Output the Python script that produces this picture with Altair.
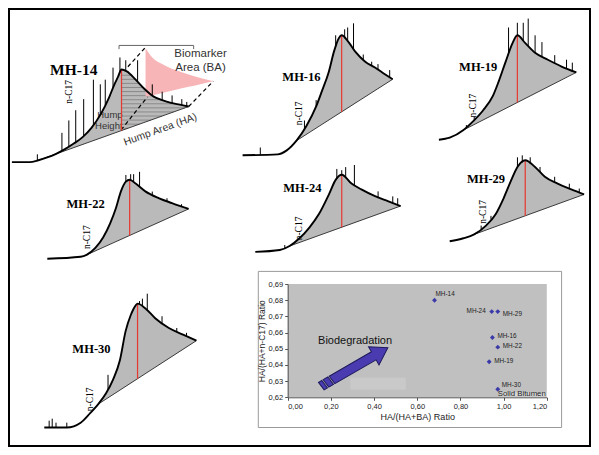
import numpy as np
import pandas as pd
import altair as alt

# ---------------- chromatogram envelopes ----------------
# retention (0 = start of trace, 100 = end of hump), response normalised to hump top = 100
MH14_T = [0, 10, 15, 20, 25, 30, 35, 40, 45, 50, 55, 58, 60, 62, 65, 70, 75, 80, 85, 90, 95, 100]
MH14_R = [0, 0, 2, 5, 9, 14, 20, 27, 37, 51, 70, 84, 92, 100, 98, 89, 79, 71, 67, 64, 62, 60]
MH14_SPK_T = [14.4, 28.3, 32.2, 36.1, 40.6, 46.1, 50, 52.8, 57.2, 61.1, 64.4, 71.1, 79.4, 85, 90.6, 96.1, 98.9]
MH14_SPK_R = [8.4, 31.6, 45, 56, 68, 89, 84, 89, 102, 113, 110, 110, 84, 76, 72, 68, 65]

MH16_T = [0, 23.5, 29.4, 35.9, 42.5, 49, 52.9, 57.5, 60.8, 64.1, 66, 70.6, 75.2, 81.7, 88.2, 94.8, 100]
MH16_R = [0, 0.8, 4.1, 12.2, 24.4, 40.7, 53.7, 69.9, 86.2, 97.6, 100, 94.3, 86.2, 78, 73.2, 67.5, 63.4]
MH16_SPK_T = [11.8, 41.2, 49, 62, 68, 70, 73.9, 80.4, 86, 90.2, 98]
MH16_SPK_R = [6.5, 29, 46, 100, 105, 106.5, 110, 84, 78, 76, 71]

MH19_T = [0, 7.9, 17.9, 25, 32.1, 39.3, 43.6, 48.6, 53.6, 57.1, 62.9, 70, 79.3, 89.3, 100]
MH19_R = [0, 1.9, 9.3, 17.8, 28, 42, 56.1, 74.8, 92.5, 100, 92.5, 83.2, 76.6, 70.1, 64.5]
MH19_SPK_T = [20, 25.7, 50.7, 57.1, 61.4, 65, 70, 75, 84.3, 92.9, 97.1]
MH19_SPK_R = [14, 22, 107.5, 112, 112, 116, 100, 93.5, 81, 76.6, 73.8]

MH22_T = [0, 23.6, 27.8, 34, 39.6, 44.4, 48.6, 52.1, 55.6, 58.3, 62.5, 69.4, 79.2, 88.2, 100]
MH22_R = [0, 2.5, 4.9, 13.6, 27.2, 44.4, 64.2, 85.2, 97.5, 100, 95.1, 85.2, 76.5, 70.4, 63]
MH22_SPK_T = [55.6, 59, 61.1, 65.3, 74.3, 84.7, 95]
MH22_SPK_R = [106, 107, 107, 110, 85, 76.5, 69]

MH24_T = [0, 16.9, 23.6, 30.4, 37.2, 43.9, 50.7, 55.4, 59.5, 66.2, 73, 82.4, 91.2, 100]
MH24_R = [0, 2.5, 7.6, 17.7, 31.6, 49.4, 74.7, 93.7, 100, 88.6, 81, 72.2, 65.8, 59.5]
MH24_SPK_T = [20.3, 56.1, 59.5, 62.2, 68.2, 84.5, 94.6, 98]
MH24_SPK_R = [8.9, 107.6, 106, 110, 112.7, 78.5, 72, 69.6]

MH29_T = [0, 10.2, 18.2, 27, 34.3, 40.1, 45.3, 50.4, 56.2, 63.5, 70.8, 80.3, 90.5, 100]
MH29_R = [0, 3.6, 8.4, 19.3, 33.7, 53, 73.5, 91.6, 100, 91.6, 79.5, 71.1, 63.9, 57.8]
MH29_SPK_T = [23.4, 30.7, 50.4, 54, 59.9, 67.2, 78.1, 89, 96.4]
MH29_SPK_R = [19.3, 31.3, 103.6, 106, 103.6, 91.6, 79.5, 71, 65]

MH30_T = [0, 14.8, 23.9, 30.3, 35.5, 40.6, 45.2, 49.7, 53.5, 56.8, 60, 61.3, 66.5, 72.9, 81.9, 91.6, 100]
MH30_R = [0, 0, 3.9, 11.8, 18.9, 27.6, 38.6, 54.3, 78, 90.6, 98.4, 100, 96.1, 88.2, 80.3, 74.8, 70.1]
MH30_SPK_T = [3.2, 5.2, 7.7, 14.8, 41.9, 62.6, 64.5, 67.7, 77.4, 87.1, 93.5]
MH30_SPK_R = [5.5, 7.1, 3.9, 3.9, 42.5, 102, 104, 108, 89.8, 80.3, 76.4]

# retention where the hump-area baseline (n-C17) starts
HA_START = {"MH-14": 15, "MH-16": 35.9, "MH-19": 17.9, "MH-22": 27.8,
            "MH-24": 23.6, "MH-29": 18.2, "MH-30": 35.5}

# MH-14 biomarker-area illustration
PINK_T = [75.6, 79.4, 85, 92.2, 100, 107.2, 113.9]
PINK_TOP = [123, 113, 106, 99.6, 94.7, 90.5, 87.4]
PINK_BOTTOM = [70.5, 87.4]

# ---------------- scatter data ----------------
SAMPLES = ["MH-14", "MH-24", "MH-29", "MH-16", "MH-22", "MH-19", "MH-30"]
HA_HABA = [0.680, 0.945, 0.973, 0.948, 0.973, 0.933, 0.973]
HA_HANC17 = [0.680, 0.673, 0.673, 0.657, 0.651, 0.642, 0.625]
X_TICKS = [0.0, 0.2, 0.4, 0.6, 0.8, 1.0, 1.2]
Y_TICKS = [0.62, 0.63, 0.64, 0.65, 0.66, 0.67, 0.68, 0.69]

# ---------------- layout / style ----------------
W, H = 583, 439
SERIF = "Liberation Serif"
SANS = "Liberation Sans"
GRAY = "#bababa"
one = pd.DataFrame({"a": [0]})

# pixel ranges of each chromatogram's retention (0..100) and response (0..100) axes
PANEL_RANGE = {
    "MH-14": ([3.9, 180.7], [154.1, 61.5]),
    "MH-16": ([234.6, 384.7], [147.3, 27.3]),
    "MH-19": ([430.9, 568.3], [131.7, 27.3]),
    "MH-22": ([39.3, 180.6], [250.7, 171.7]),
    "MH-24": ([247.3, 392.6], [243.9, 166.8]),
    "MH-29": ([441.7, 576.1], [233.2, 152.2]),
    "MH-30": ([36.3, 188.4], [419.5, 295.6]),
}
SCATTER_RANGE = ([279.7, 538.8], [389.3, 276.1])


def chromatogram(name, t, r, spk_t, spk_r, lab, nc, lab_size=12.5, extra=None):
    xr, yr = PANEL_RANGE[name]
    xs = alt.Scale(domain=[0, 100], range=xr, nice=False, zero=False)
    ys = alt.Scale(domain=[0, 100], range=yr, nice=False, zero=False)

    def X(f):
        return alt.X(f, type="quantitative", scale=xs, axis=None)

    def Y(f):
        return alt.Y(f, type="quantitative", scale=ys, axis=None)

    env = pd.DataFrame({"t": t, "r": r})
    t0 = HA_START[name]
    r0 = r[t.index(t0)]
    t1, r1 = t[-1], r[-1]

    def base(x):
        return r0 + (np.asarray(x, dtype=float) - t0) * (r1 - r0) / (t1 - t0)

    area = env[env.t >= t0].copy()
    area["b"] = base(area.t)
    ipk = int(np.argmax(r))
    tp, rp = t[ipk], r[ipk]
    peak = pd.DataFrame({"t": [tp], "r": [rp], "b": [float(base(tp))]})
    spk = pd.DataFrame({"t": spk_t, "top": spk_r, "bot": np.interp(spk_t, t, r)})
    baseline = pd.DataFrame({"t": [t0, t1], "r": [r0, r1]})

    layers = [alt.Chart(area).mark_area(color=GRAY, interpolate="monotone").encode(X("t"), Y("r"), y2="b")]
    if extra is not None:
        layers += extra(X, Y, t, r, t0, r0, t1, r1, tp, rp, base)
    layers += [
        alt.Chart(baseline).mark_line(color="#3a3a3a", strokeWidth=1).encode(X("t"), Y("r")),
        alt.Chart(peak).mark_rule(color="#e8372f", strokeWidth=1.2).encode(X("t"), Y("r"), y2="b"),
        alt.Chart(spk).mark_rule(color="black", strokeWidth=1).encode(X("t"), Y("bot"), y2="top"),
        alt.Chart(env).mark_line(color="black", strokeWidth=1.9, interpolate="monotone").encode(X("t"), Y("r")),
        alt.Chart(pd.DataFrame({"t": [lab[0]], "r": [lab[1]], "s": [name]})).mark_text(
            font=SERIF, fontWeight="bold", fontSize=lab_size, color="black"
        ).encode(X("t"), Y("r"), text="s"),
        alt.Chart(pd.DataFrame({"t": [nc[0]], "r": [nc[1]], "s": ["n-C17"]})).mark_text(
            font=SERIF, fontSize=9.5, angle=270, color="black"
        ).encode(X("t"), Y("r"), text="s"),
    ]
    return alt.layer(*layers)


def mh14_extra(X, Y, t, r, t0, r0, t1, r1, tp, rp, base):
    out = []
    # hatching of the hump area right of the hump height
    decay_t = np.array(t[t.index(tp):], dtype=float)
    decay_r = np.array(r[t.index(tp):], dtype=float)
    levels = np.arange(float(base(tp)) + 2.5, rp - 2, 4.4)
    xr = []
    for L in levels:
        right_env = np.interp(L, decay_r[::-1], decay_t[::-1])
        right_base = t0 + (L - r0) * (t1 - t0) / (r1 - r0) if L <= r1 else 1e9
        xr.append(float(min(right_env, right_base)))
    hatch = pd.DataFrame({"y": levels, "x0": tp, "x1": xr})
    out.append(alt.Chart(hatch).mark_rule(color="#7d7d7d", strokeWidth=0.8).encode(X("x0"), Y("y"), x2="x1"))
    # pulled-out biomarker area
    pk = pd.DataFrame({"t": PINK_T, "top": PINK_TOP,
                       "bot": np.interp(PINK_T, [PINK_T[0], PINK_T[-1]], PINK_BOTTOM)})
    out.append(alt.Chart(pk).mark_area(color="#f7b5b7", interpolate="monotone").encode(
        X("t"), Y("top"), y2="bot"))
    dash = pd.DataFrame({"x0": [65.6, 61.7, 100], "y0": [103, 34.7, 60],
                         "x1": [75.6, 76.7, 113.9], "y1": [124, 70.5, 87.4]})
    out.append(alt.Chart(dash).mark_rule(color="black", strokeWidth=1.2, strokeDash=[4, 3]).encode(
        X("x0"), Y("y0"), x2="x1", y2="y1"))
    br = pd.DataFrame({"x0": [60.6, 60.6, 102.8], "x1": [102.8, 60.6, 102.8],
                       "y0": [126, 126, 126], "y1": [126, 122, 122]})
    out.append(alt.Chart(br).mark_rule(color="#666666", strokeWidth=1).encode(
        X("x0"), Y("y0"), x2="x1", y2="y1"))
    txt = pd.DataFrame({"t": [106.7, 106.7], "r": [117, 102], "s": ["Biomarker", "Area (BA)"]})
    out.append(alt.Chart(txt).mark_text(font=SANS, fontSize=11.5, color="#333333").encode(
        X("t"), Y("r"), text="s"))
    hh = pd.DataFrame({"t": [62.6, 62.6], "r": [50.5, 39], "s": ["Hump", "Height"]})
    out.append(alt.Chart(hh).mark_text(font=SANS, fontSize=9.5, color="#333333", align="right").encode(
        X("t"), Y("r"), text="s"))
    ha = pd.DataFrame({"t": [84], "r": [35], "s": ["Hump Area (HA)"]})
    out.append(alt.Chart(ha).mark_text(font=SANS, fontSize=10.5, color="#333333", angle=340).encode(
        X("t"), Y("r"), text="s"))
    return out


p14 = chromatogram("MH-14", MH14_T, MH14_R, MH14_SPK_T, MH14_SPK_R, (35, 100), (32.2, 75.8),
                   lab_size=15.5, extra=mh14_extra)
p22 = chromatogram("MH-22", MH22_T, MH22_R, MH22_SPK_T, MH22_SPK_R, (27.1, 69), (27.8, 27.2))
p30 = chromatogram("MH-30", MH30_T, MH30_R, MH30_SPK_T, MH30_SPK_R, (31, 63), (30.3, 22.8))
p16 = chromatogram("MH-16", MH16_T, MH16_R, MH16_SPK_T, MH16_SPK_R, (39.2, 65), (37.9, 35))
p24 = chromatogram("MH-24", MH24_T, MH24_R, MH24_SPK_T, MH24_SPK_R, (32.4, 82.3), (30.4, 30.4))
p19 = chromatogram("MH-19", MH19_T, MH19_R, MH19_SPK_T, MH19_SPK_R, (28.6, 69.2), (25, 32.7))
p29 = chromatogram("MH-29", MH29_T, MH29_R, MH29_SPK_T, MH29_SPK_R, (27, 77.1), (24.8, 36.1))

# ---------------- scatter ----------------
sxr, syr = SCATTER_RANGE
xsc = alt.Scale(domain=[0, 1.2], range=sxr, nice=False, zero=False)
ysc = alt.Scale(domain=[0.62, 0.69], range=syr, nice=False, zero=False)
lab_expr = "replace(format(datum.value, '.2f'), '.', ',')"
XAX = alt.Axis(values=X_TICKS, labelExpr=lab_expr, grid=False, title="HA/(HA+BA) Ratio", orient="bottom",
               offset=-(H - syr[0]), labelFont=SANS, titleFont=SANS, labelFontSize=7.5, titleFontSize=9,
               titleFontWeight="normal", labelColor="#222222", titleColor="#222222", domainColor="#555555",
               tickColor="#555555", tickSize=3, labelPadding=2, titlePadding=3, zindex=1)
YAX = alt.Axis(values=Y_TICKS, labelExpr=lab_expr, grid=False, title="HA/(HA+n-C17) Ratio", orient="left",
               offset=-sxr[0], labelFont=SANS, titleFont=SANS, labelFontSize=7.5, titleFontSize=8.5,
               titleFontWeight="normal", labelColor="#222222", titleColor="#222222", domainColor="#555555",
               tickColor="#555555", tickSize=3, labelPadding=2, titlePadding=2, zindex=1)


def SX(f):
    return alt.X(f, type="quantitative", scale=xsc, axis=XAX)


def SY(f):
    return alt.Y(f, type="quantitative", scale=ysc, axis=YAX)


pts = pd.DataFrame({"sample": SAMPLES, "x": HA_HABA, "y": HA_HANC17})

box = alt.Chart(one).mark_rect(fill="white", stroke="#9a9a9a", strokeWidth=1).encode(
    x=alt.value(250.3), x2=alt.value(553.6), y=alt.value(263.4), y2=alt.value(419.5))
bg = alt.Chart(pd.DataFrame({"x0": [0.0], "x1": [1.2], "y0": [0.62], "y1": [0.69]})).mark_rect(
    color="#c0c0c0").encode(SX("x0"), SY("y0"), x2="x1", y2="y1")
wm = alt.Chart(pd.DataFrame({"x0": [0.29], "x1": [0.547], "y0": [0.6247], "y1": [0.6321]})).mark_rect(
    color="#c9c9c9").encode(SX("x0"), SY("y0"), x2="x1", y2="y1")
sb = alt.Chart(pd.DataFrame({"x0": [0.985], "x1": [1.2], "y0": [0.6205], "y1": [0.6232]})).mark_rect(
    color="#d6d6d6").encode(SX("x0"), SY("y0"), x2="x1", y2="y1")

# arrow glyph (tail pieces, shaft, head) drawn at the arrow's midpoint
ARROW_PATH = ("M-1,-0.12 L-0.9,-0.12 L-0.87,0.12 L-0.97,0.12 Z "
              "M-0.86,-0.12 L-0.72,-0.12 L-0.69,0.12 L-0.83,0.12 Z "
              "M-0.68,-0.12 L0.58,-0.12 L0.58,-0.27 L1,0 L0.58,0.27 L0.58,0.12 L-0.65,0.12 Z")
arr = alt.Chart(pd.DataFrame({"x": [0.3085], "y": [0.6387]})).mark_point(
    shape=ARROW_PATH, size=6000, angle=330, filled=True, fill="#4a3cb0", stroke="#1d1a5c",
    strokeWidth=1, opacity=1).encode(SX("x"), SY("y"))
bio = alt.Chart(pd.DataFrame({"x": [0.312], "y": [0.6548], "s": ["Biodegradation"]})).mark_text(
    font=SANS, fontSize=11, color="#111111").encode(SX("x"), SY("y"), text="s")

dots = alt.Chart(pts).mark_point(shape="diamond", filled=True, size=24, color="#3b3aa8", opacity=1).encode(
    SX("x"), SY("y"))


def labels(names, **kw):
    return alt.Chart(pts).transform_filter(
        alt.FieldOneOfPredicate(field="sample", oneOf=names)
    ).mark_text(font=SANS, fontSize=6.4, color="#222222", **kw).encode(SX("x"), SY("y"), text="sample")


lab_r = labels(["MH-16", "MH-22", "MH-19"], align="left", dx=5, dy=-1)
lab_29 = labels(["MH-29"], align="left", dx=5, dy=2)
lab_30 = labels(["MH-30"], align="left", dx=4, dy=-4)
lab_14 = labels(["MH-14"], align="left", dx=1, dy=-6)
lab_24 = labels(["MH-24"], align="right", dx=-6, dy=-1)
solid = alt.Chart(pd.DataFrame({"x": [1.2], "y": [0.6219], "s": ["Solid Bitumen"]})).mark_text(
    font=SANS, fontSize=7.8, color="#222222", align="right", dx=-1).encode(SX("x"), SY("y"), text="s")

scatter = alt.layer(bg, wm, sb, arr, bio, dots, lab_r, lab_29, lab_30, lab_14, lab_24, solid)

frame = alt.Chart(one).mark_rect(fill=None, stroke="black", strokeWidth=2).encode(
    x=alt.value(1), x2=alt.value(W - 1), y=alt.value(1), y2=alt.value(H - 1))

chart = alt.layer(
    box, p14, p16, p19, p22, p24, p29, p30, scatter, frame
).resolve_scale(x="independent", y="independent").resolve_axis(
    x="independent", y="independent"
).properties(
    width=W, height=H, padding=0, background="white",
    autosize=alt.AutoSizeParams(type="none"),
).configure_view(strokeWidth=0)

chart.save("out.html", embed_options={"renderer": "svg", "actions": False})
